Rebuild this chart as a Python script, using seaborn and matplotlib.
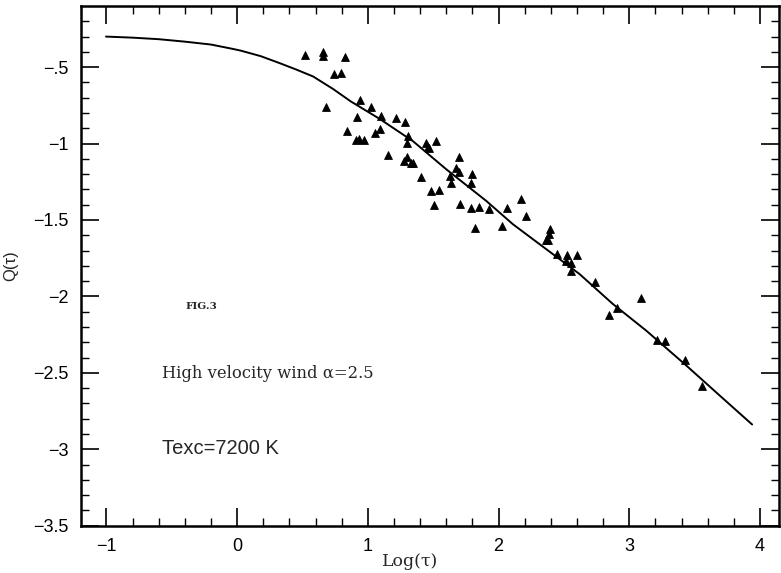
import numpy as np
import pandas as pd
import matplotlib
matplotlib.use("Agg")
import matplotlib.pyplot as plt
import seaborn as sns

# observed points (log tau, Q)
obs_log_tau = [0.518, 0.653, 0.653, 0.823, 0.742, 0.793, 0.938, 0.676, 1.022, 0.917,
               1.099, 1.219, 1.284, 0.844, 0.907, 0.933, 0.971, 1.055, 1.096, 1.307,
               1.303, 1.443, 1.458, 1.466, 1.521, 1.157, 1.303, 1.274, 1.328, 1.343,
               1.700, 1.404, 1.677, 1.695, 1.794, 1.631, 1.634, 1.789, 1.483, 1.547,
               1.506, 1.705, 1.792, 1.850, 1.924, 2.067, 2.169, 2.209, 1.817, 2.024,
               2.391, 2.385, 2.360, 2.378, 2.446, 2.526, 2.518, 2.551, 2.602, 2.551,
               2.737, 3.092, 2.908, 2.844, 3.211, 3.275, 3.430, 3.553]
obs_q = [-0.420, -0.398, -0.426, -0.435, -0.546, -0.535, -0.713, -0.763, -0.763, -0.826,
         -0.822, -0.832, -0.861, -0.917, -0.978, -0.967, -0.974, -0.933, -0.902, -0.948,
         -0.995, -0.995, -1.022, -1.028, -0.980, -1.076, -1.087, -1.113, -1.126, -1.130,
         -1.085, -1.217, -1.161, -1.184, -1.198, -1.213, -1.261, -1.256, -1.311, -1.304,
         -1.400, -1.396, -1.419, -1.413, -1.426, -1.424, -1.360, -1.471, -1.554, -1.539,
         -1.556, -1.593, -1.632, -1.632, -1.724, -1.730, -1.767, -1.784, -1.728, -1.832,
         -1.904, -2.012, -2.076, -2.119, -2.287, -2.289, -2.419, -2.586]

# model curve
curve_log_tau = [-1.004, -0.800, -0.601, -0.402, -0.201, -0.031, 0.028, 0.180, 0.326, 0.450,
                 0.581, 0.734, 0.869, 1.091, 1.346, 1.601, 1.907, 2.110, 2.365, 2.620,
                 2.875, 3.130, 3.436, 3.690, 3.940]
curve_q = [-0.300, -0.307, -0.317, -0.333, -0.352, -0.381, -0.392, -0.428, -0.474, -0.515,
           -0.561, -0.643, -0.724, -0.839, -0.985, -1.169, -1.376, -1.528, -1.691, -1.854,
           -2.050, -2.224, -2.452, -2.647, -2.838]

x_ticks = [-1, 0, 1, 2, 3, 4]
x_tick_labels = ["\u22121", "0", "1", "2", "3", "4"]
y_ticks = [-0.5, -1, -1.5, -2, -2.5, -3, -3.5]
y_tick_labels = ["\u2212.5", "\u22121", "\u22121.5", "\u22122", "\u22122.5", "\u22123", "\u22123.5"]

sns.set_theme(style="ticks")
plt.rcParams["font.family"] = ["Liberation Sans", "DejaVu Sans"]

fig = plt.figure(figsize=(7.81, 5.73), dpi=100)
ax = fig.add_axes([0.1037, 0.0826, 0.8943, 0.9069])

df_obs = pd.DataFrame({"log_tau": obs_log_tau, "q": obs_q})
df_curve = pd.DataFrame({"log_tau": curve_log_tau, "q": curve_q})

sns.lineplot(data=df_curve, x="log_tau", y="q", sort=False, estimator=None,
             color="black", linewidth=1.4, ax=ax)
sns.scatterplot(data=df_obs, x="log_tau", y="q", marker="^", s=32,
                color="black", edgecolor="black", linewidth=0.6, ax=ax)

ax.set_xlim(-1.195, 4.149)
ax.set_ylim(-3.5, -0.1)

ax.set_xticks(x_ticks)
ax.set_xticklabels(x_tick_labels)
ax.set_yticks(y_ticks)
ax.set_yticklabels(y_tick_labels)
ax.set_xticks(np.arange(-1.0, 4.01, 0.2), minor=True)
ax.set_yticks(np.arange(-3.4, -0.15, 0.1), minor=True)

ax.tick_params(which="both", direction="in", top=True, right=True, colors="black")
ax.tick_params(which="major", length=13, width=1.2, labelsize=13, pad=9)
ax.tick_params(which="minor", length=6, width=1.0)

for side in ax.spines.values():
    side.set_linewidth(1.8)
    side.set_color("black")

ax.set_xlabel("Log(\u03c4)", fontsize=12.5, family=["DejaVu Serif"])
ax.set_ylabel("Q(\u03c4)", fontsize=12)
ax.xaxis.set_label_coords(0.471, -0.052)
ax.yaxis.set_label_coords(-0.09, 0.5)

ax.text(-0.392, -2.069, "FIG.3", fontsize=7.5, fontweight="bold",
        family=["DejaVu Serif"], va="center")
ax.text(-0.578, -2.506, "High velocity wind \u03b1=2.5", fontsize=11.8, va="center",
        family=["DejaVu Serif"])
ax.text(-0.578, -2.995, "Texc=7200 K", fontsize=14.5, va="center")

fig.savefig("out.png", dpi=100, facecolor="white")
plt.close(fig)
